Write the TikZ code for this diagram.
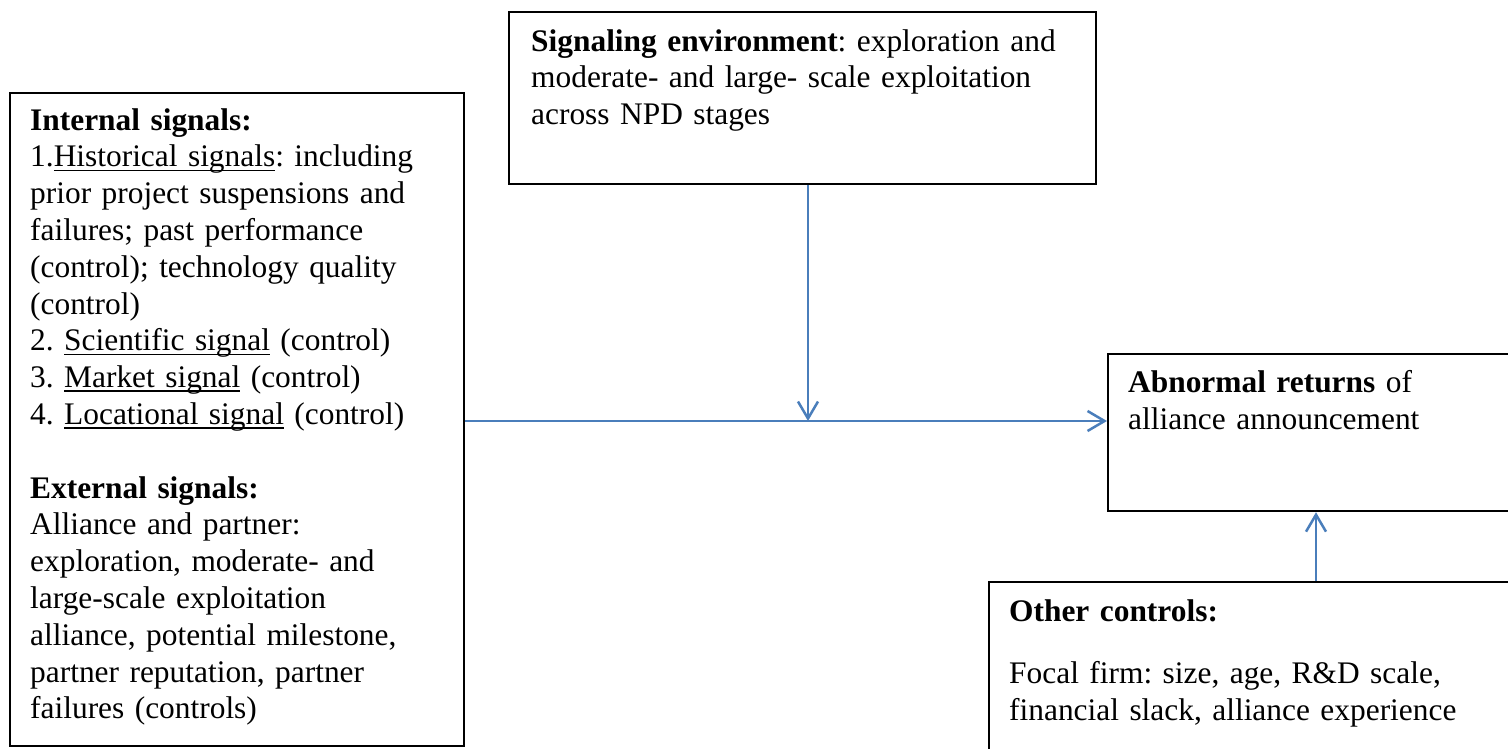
\documentclass[tikz,border=0pt]{standalone}
\usepackage{fontspec}
\setmainfont{Liberation Serif}
\usetikzlibrary{arrows.meta,calc}
\definecolor{lineblue}{HTML}{4A7EBB}
\frenchspacing
\newcommand\myul[1]{\setbox0\hbox{#1}\leavevmode\rlap{\rule[-4.2pt]{\wd0}{1.6pt}}\box0\relax}
\newcommand\firststrut{\rule{0pt}{28.5pt}}
\begin{document}
\begin{tikzpicture}[x=1pt,y=-1pt,
  boxshape/.style={draw=black,line width=2.2pt,rectangle,inner sep=0pt,anchor=north west},
  txt/.style={inner sep=0pt,anchor=north west,align=left,text width=#1,
    font=\fontsize{31.4}{36.8}\selectfont\frenchspacing},
  conn/.style={draw=lineblue,line width=2.5pt,-{Straight Barb[length=17pt,width=20pt]}}]
\useasboundingbox (0,0) rectangle (1508,749);
\clip (0,0) rectangle (1508,749);
\fill[white] (0,0) rectangle (1508,749);
% boxes
\node[boxshape,minimum width=454pt,minimum height=653pt] (inbox) at (9,92) {};
\node[boxshape,minimum width=587pt,minimum height=172pt] (sigbox) at (508,11) {};
\node[boxshape,minimum width=420pt,minimum height=157pt] (abnbox) at (1107,353) {};
\node[boxshape,minimum width=560pt,minimum height=220pt] (ctrlbox) at (988,581) {};
% texts
\node[txt=460pt] (intxt) at (30,101.5) {\firststrut\textbf{Internal signals:}\\
1.\myul{Historical signals}: including\\
prior project suspensions and\\
failures; past performance\\
(control); technology quality\\
(control)\\
2. \myul{Scientific signal} (control)\\
3. \myul{Market signal} (control)\\
4. \myul{Locational signal} (control)\\[36.8pt]
\textbf{External signals:}\\
Alliance and partner:\\
exploration, moderate- and\\
large-scale exploitation\\
alliance, potential milestone,\\
partner reputation, partner\\
failures (controls)};
\node[txt=600pt] (sigtxt) at (531,22.5) {\firststrut\textbf{Signaling environment}: exploration and\\
moderate- and large- scale exploitation\\
across NPD stages};
\node[txt=400pt] (abntxt) at (1128,363.5) {\firststrut\textbf{Abnormal returns} of\\
alliance announcement};
\node[txt=500pt] (ctrltxt) at (1009,592.5) {\firststrut\textbf{Other controls:}\\[25.2pt]
Focal firm: size, age, R\&D scale,\\
financial slack, alliance experience};
% connectors
\coordinate (junc) at (808,421);
\coordinate (upx) at (1316,545);
\draw[conn] (inbox.east |- junc) -- (abnbox.west |- junc);
\draw[conn] (sigbox.south -| junc) -- (junc);
\draw[conn] (ctrlbox.north -| upx) -- (abnbox.south -| upx);
\end{tikzpicture}
\end{document}
